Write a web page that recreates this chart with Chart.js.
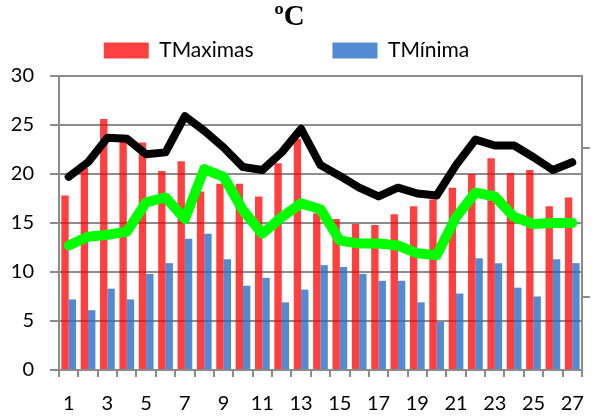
<!DOCTYPE html>
<html>
<head>
<meta charset="utf-8">
<script src="https://cdn.jsdelivr.net/npm/chart.js@4.4.1/dist/chart.umd.min.js"></script>
<style>
  body { margin: 0; background: #fff; }
  #wrap { width: 599px; height: 418px; }
</style>
</head>
<body>
<div id="wrap"><canvas id="tempChart"></canvas></div>
<script>
// dias del mes
const dias = ['1','2','3','4','5','6','7','8','9','10','11','12','13','14','15','16','17','18','19','20','21','22','23','24','25','26','27'];

// barras
const tMaximas = [17.8, 20.6, 25.6, 24.0, 23.2, 20.3, 21.3, 18.2, 19.0, 19.0, 17.7, 21.1, 23.6, 16.0, 15.4, 14.9, 14.8, 15.9, 16.7, 17.4, 18.6, 20.0, 21.6, 20.1, 20.4, 16.7, 17.6];
const tMinimas = [7.2, 6.1, 8.3, 7.2, 9.8, 10.9, 13.4, 13.9, 11.3, 8.6, 9.4, 6.9, 8.2, 10.7, 10.5, 9.8, 9.1, 9.1, 6.9, 4.9, 7.8, 11.4, 10.9, 8.4, 7.5, 11.3, 10.9];

// lineas (sin leyenda)
const lineaNegra = [19.7, 21.2, 23.7, 23.6, 22.0, 22.2, 25.9, 24.4, 22.7, 20.7, 20.4, 22.2, 24.6, 20.9, 19.8, 18.6, 17.7, 18.6, 18.0, 17.8, 20.9, 23.5, 22.9, 22.9, 21.7, 20.4, 21.2];
const lineaVerde = [12.7, 13.6, 13.8, 14.1, 17.1, 17.6, 15.4, 20.5, 19.7, 16.3, 13.9, 15.6, 17.0, 16.4, 13.2, 12.9, 12.9, 12.7, 11.9, 11.7, 15.6, 18.1, 17.7, 15.6, 14.9, 15.0, 15.0];

// eje derecho: solo marcas, sin etiquetas
const marcasDerecha = [7.4, 22.6];

const gris = '#8c8c8c';
const fuente = 'Lato';

// mueve titulo y leyenda un poco (en el original no estan centrados)
const ajustePlugin = {
    id: 'ajuste',
    afterLayout(chart) {
        const t = chart.titleBlock;
        t.left -= 10; t.right -= 10;
        const l = chart.legend;
        l.left -= 13; l.right -= 13;
        l.top -= 5; l.bottom -= 5;
    }
};

const ctx = document.getElementById('tempChart').getContext('2d');
new Chart(ctx, {
    data: {
        labels: dias,
        datasets: [
            {
                type: 'bar',
                label: 'TMaximas',
                data: tMaximas,
                backgroundColor: 'rgba(255, 0, 0, 0.75)',
                categoryPercentage: 0.76,
                barPercentage: 1.0,
                order: 1
            },
            {
                type: 'bar',
                label: 'TMínima',
                data: tMinimas,
                backgroundColor: 'rgba(40, 110, 200, 0.8)',
                categoryPercentage: 0.76,
                barPercentage: 1.0,
                order: 1
            },
            {
                type: 'line',
                label: 'Media máx.',
                data: lineaNegra,
                borderColor: '#000000',
                borderWidth: 8,
                pointRadius: 0,
                tension: 0,
                fill: false,
                borderJoinStyle: 'round',
                borderCapStyle: 'round',
                order: 0
            },
            {
                type: 'line',
                label: 'Media mín.',
                data: lineaVerde,
                borderColor: '#00ff00',
                borderWidth: 10,
                pointRadius: 0,
                tension: 0,
                fill: false,
                borderJoinStyle: 'round',
                borderCapStyle: 'round',
                order: 0
            }
        ]
    },
    options: {
        responsive: true,
        maintainAspectRatio: false,
        animation: false,
        layout: { padding: 0 },
        plugins: {
            title: {
                display: true,
                text: 'ºC',
                color: '#000',
                font: { family: 'Liberation Serif', size: 29, weight: 'bold', lineHeight: 1.1 },
                padding: { top: 2, bottom: 2 }
            },
            legend: {
                display: true,
                labels: {
                    boxWidth: 45,
                    boxHeight: 16,
                    padding: 9,
                    color: '#000',
                    font: { family: fuente, size: 21 },
                    generateLabels(chart) {
                        const items = Chart.defaults.plugins.legend.labels.generateLabels(chart);
                        return items
                            .filter(it => it.datasetIndex < 2)
                            .map(it => {
                                if (it.datasetIndex === 0) it.text += ' '.repeat(13);
                                return it;
                            });
                    }
                },
                onClick: null
            },
            tooltip: { enabled: false }
        },
        scales: {
            x: {
                grid: {
                    drawOnChartArea: false,
                    drawTicks: true,
                    tickLength: 7,
                    color: gris,
                    lineWidth: 2
                },
                border: { color: gris, width: 2 },
                ticks: {
                    autoSkip: false,
                    maxRotation: 0,
                    padding: 15,
                    color: '#000',
                    font: { family: fuente, size: 20 },
                    callback: function (val, i) {
                        return i % 2 === 0 ? this.getLabelForValue(val) : '';
                    }
                },
                afterFit: s => { s.height = 48; }
            },
            y: {
                min: 0,
                max: 30,
                ticks: {
                    stepSize: 5,
                    padding: 16,
                    color: '#000',
                    font: { family: fuente, size: 20 }
                },
                grid: { color: gris, lineWidth: 2, tickLength: 9 },
                border: { color: gris, width: 2 },
                afterFit: s => { s.width = 59; }
            },
            y2: {
                position: 'right',
                min: 0,
                max: 30,
                ticks: { display: false },
                grid: { drawOnChartArea: false, tickLength: 8, color: gris, lineWidth: 2 },
                border: { color: gris, width: 2 },
                afterBuildTicks: s => { s.ticks = marcasDerecha.map(v => ({ value: v })); },
                afterFit: s => { s.width = 8; }
            }
        }
    },
    plugins: [ajustePlugin]
});
</script>
</body>
</html>
